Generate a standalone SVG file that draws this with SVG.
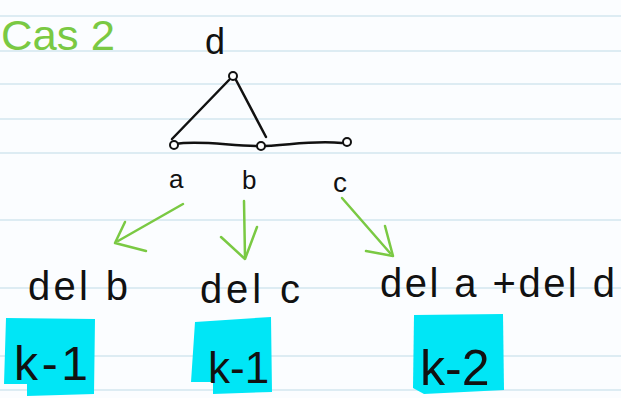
<svg xmlns="http://www.w3.org/2000/svg" width="621" height="398" viewBox="0 0 621 398">
<style>
.rule{stroke:#d3e6ef;stroke-width:1.5}
.ink{font-family:"Liberation Sans",sans-serif;fill:#111}
.green{font-family:"Liberation Sans",sans-serif;fill:#7ac943}
.edge{stroke:#111;stroke-width:2.5;fill:none;stroke-linecap:round}
.arrow{stroke:#7ac943;stroke-width:2.5;fill:none;stroke-linecap:round;stroke-linejoin:round}
.vtx{fill:#fff;stroke:#111;stroke-width:2}
.hl{fill:#00e6f6}
</style>
<rect width="621" height="398" fill="#fbfdff"/>
<g id="ruling">
<line class="rule" x1="0" y1="16" x2="621" y2="16"/>
<line class="rule" x1="0" y1="51" x2="621" y2="51"/>
<line class="rule" x1="0" y1="84" x2="621" y2="84"/>
<line class="rule" x1="0" y1="119" x2="621" y2="119"/>
<line class="rule" x1="0" y1="153" x2="621" y2="153"/>
<line class="rule" x1="0" y1="220" x2="621" y2="220"/>
<line class="rule" x1="0" y1="288" x2="621" y2="288"/>
<line class="rule" x1="0" y1="356" x2="621" y2="356"/>
<line class="rule" x1="0" y1="390" x2="621" y2="390"/>
</g>
<text class="green" x="1" y="50" font-size="42" textLength="114" lengthAdjust="spacingAndGlyphs">Cas 2</text>
<g id="connectors">
<path class="edge" d="M172 139 L229 80"/>
<path class="edge" d="M236 80 L266 137"/>
<path class="edge" d="M175 144 C200 140,230 146,258 146 C285 146,310 140,342 143"/>
<path class="arrow" d="M183 204 L118 241"/>
<path class="arrow" d="M125 222 L115 243 L146 251"/>
<path class="arrow" d="M244 201 L245 257"/>
<path class="arrow" d="M221 237 L245 259 L257 227"/>
<path class="arrow" d="M342 198 L390 253"/>
<path class="arrow" d="M366 251 L393 256 L385 226"/>
</g>
<g id="node-d">
<circle class="vtx" cx="233" cy="76" r="4"/>
<text class="ink" x="205" y="54" font-size="36">d</text>
</g>
<g id="node-a">
<circle class="vtx" cx="174" cy="145" r="4"/>
<text class="ink" x="169" y="188" font-size="26">a</text>
</g>
<g id="node-b">
<circle class="vtx" cx="261" cy="146" r="4"/>
<text class="ink" x="242" y="189" font-size="26">b</text>
</g>
<g id="node-c">
<circle class="vtx" cx="347" cy="142" r="4"/>
<text class="ink" x="333" y="192" font-size="28">c</text>
</g>
<g id="result-b">
<text class="ink" x="28" y="300" font-size="40" textLength="100" lengthAdjust="spacing">del b</text>
<path class="hl" d="M6 318 L95 319 L94 394 L27 396 L27 384 L4 384 Z"/>
<text class="ink" x="14" y="380" font-size="48" textLength="74" lengthAdjust="spacing">k-1</text>
</g>
<g id="result-c">
<text class="ink" x="200" y="303" font-size="40" textLength="100" lengthAdjust="spacing">del c</text>
<path class="hl" d="M195 322 L271 317 L272 392 L213 394 L213 382 L191 382 Z"/>
<text class="ink" x="208" y="383" font-size="44">k-1</text>
</g>
<g id="result-ad">
<text class="ink" x="380" y="297" font-size="40" textLength="235" lengthAdjust="spacing">del a +del d</text>
<path class="hl" d="M414 315 L503 314 L504 390 L424 394 L413 388 Z"/>
<text class="ink" x="420" y="385" font-size="50">k-2</text>
</g>
</svg>
